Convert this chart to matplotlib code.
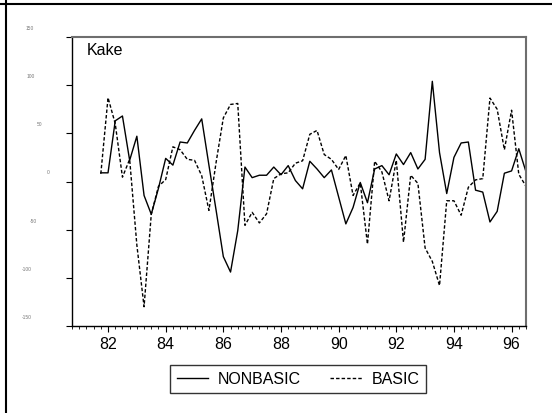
import numpy as np
import matplotlib
matplotlib.use("Agg")
import matplotlib.pyplot as plt
from matplotlib.lines import Line2D
from matplotlib.transforms import ScaledTranslation

plt.rcParams['font.family'] = ['Liberation Sans', 'DejaVu Sans']

# quarterly data, 1981Q4 .. 1996Q3
start_year = 1981.75
nonbasic = [9, 9, 63, 68, 22, 47, -14.5, -34, -7, 24,
            17, 41, 40, 53, 65, 17, -30, -78, -94, -51,
            15, 4, 6.5, 6.5, 15, 7, 16.5, 1, -7.6, 21,
            13, 4, 12, -16, -44, -27, -1, -22, 13, 16.5,
            7, 28.6, 17.6, 30, 13, 23, 104, 30, -12.5, 25,
            40, 41, -9, -11, -42, -31, 8.6, 11, 34, 10]
basic = [8, 87, 60, 4.5, 23, -66, -130, -34, -5, 2,
         36, 33, 23, 22, 6, -30, 20, 66, 80, 81,
         -45.5, -32, -43, -33.5, 3, 8, 9, 19, 21.5, 49,
         53, 28, 23, 12.5, 27, -14.5, -1.5, -65, 21, 10,
         -20, 22, -63, 6.5, -2, -69, -83, -108, -20, -20,
         -35, -6, 1.7, 3, 86.6, 75, 33, 74, 7.5, -5]
xtick_years = [82, 84, 86, 88, 90, 92, 94, 96]
yticks = [-150, -100, -50, 0, 50, 100, 150]
title = "Kake"

t = start_year - 1900 + 0.25 * np.arange(len(nonbasic))

fig = plt.figure(figsize=(5.52, 4.13), dpi=100)
ax = fig.add_axes([72/552, 1 - 326/413, 454/552, 289/413])

ax.plot(t, nonbasic, color='black', lw=1.0, label='NONBASIC')
ax.plot(t, basic, color='black', lw=1.0, ls=(0, (2.5, 1.5)), label='BASIC')

ax.set_xlim(80.75, 96.5)
ax.set_ylim(-150, 150)

ax.set_xticks(xtick_years)
ax.set_xticklabels([str(y) for y in xtick_years], fontsize=11.5)
ax.set_xticks(np.arange(80.75, 96.51, 0.25), minor=True)
ax.tick_params(axis='x', which='major', direction='out', length=4, width=0.8, pad=4)
ax.tick_params(axis='x', which='minor', direction='out', length=2.5, width=0.6)

ax.set_yticks(yticks)
ax.set_yticklabels([str(v) for v in yticks], fontsize=3.5, color='#777777')
ax.tick_params(axis='y', direction='out', length=4, width=0.8, pad=0)
# the tiny labels sit scattered up and to the left of their ticks
label_cx = [32, 32, 39, 54, 45, 36, 35]
for lab, cx in zip(ax.get_yticklabels(), label_cx):
    lab.set_horizontalalignment('center')
    lab.set_transform(lab.get_transform() +
                      ScaledTranslation((cx - 72) / 100, 9 / 100, fig.dpi_scale_trans))

for s in ['left', 'bottom']:
    ax.spines[s].set_color('black')
    ax.spines[s].set_linewidth(1.0)
for s in ['top', 'right']:
    ax.spines[s].set_color('#6e6e6e')
    ax.spines[s].set_linewidth(1.5)

ax.text(0.033, 0.955, title, transform=ax.transAxes, fontsize=11.5,
        ha='left', va='center')

leg = fig.legend(loc='center', bbox_to_anchor=(298/552, 1 - 379/413), ncol=2,
                 fontsize=11.5, frameon=True, fancybox=False, handlelength=2.0,
                 handletextpad=0.6, columnspacing=1.8, borderpad=0.4)
leg.get_frame().set_edgecolor('black')
leg.get_frame().set_linewidth(1.0)

# outer frame lines
fig.add_artist(Line2D([0, 1], [1 - 4/413, 1 - 4/413], transform=fig.transFigure,
                      color='black', lw=1.5))
fig.add_artist(Line2D([6/552, 6/552], [0, 1], transform=fig.transFigure,
                      color='black', lw=1.5))

plt.savefig("out.png", dpi=100)
